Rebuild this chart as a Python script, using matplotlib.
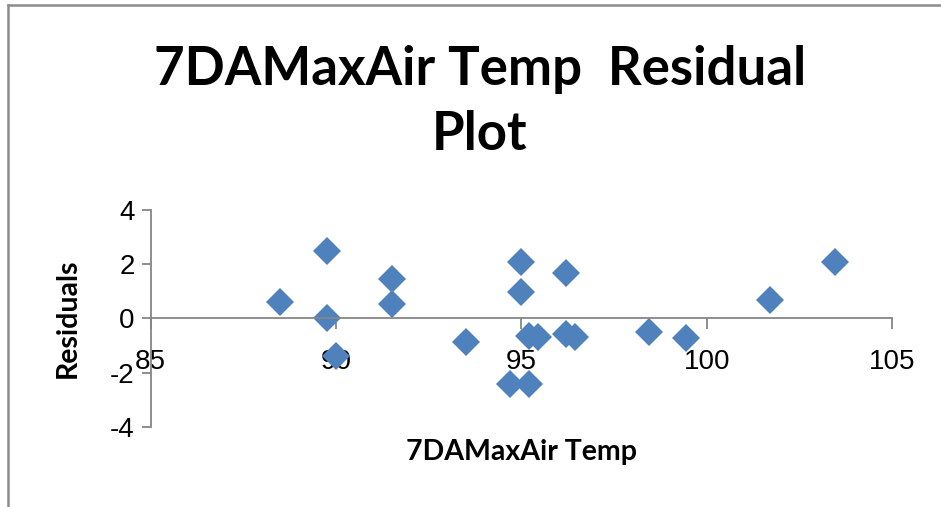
import matplotlib
matplotlib.use("Agg")
import matplotlib.pyplot as plt
from matplotlib.lines import Line2D

# residual plot data
max_air_temp = [88.5, 89.75, 89.75, 90.0, 91.5, 91.5, 93.5, 94.7, 95.0, 95.0,
                95.2, 95.2, 95.45, 96.2, 96.2, 96.45, 98.45, 99.45, 101.7, 103.45]
residuals = [0.62, 2.49, 0.03, -1.37, 1.47, 0.52, -0.86, -2.42, 2.10, 0.99,
             -2.42, -0.65, -0.69, 1.67, -0.58, -0.67, -0.51, -0.71, 0.68, 2.08]

x_ticks = [85, 90, 95, 100, 105]
y_ticks = [-4, -2, 0, 2, 4]

plt.rcParams["axes.unicode_minus"] = False

LABEL_FONT = ["Lato", "DejaVu Sans"]
AXIS_GRAY = "#868686"

fig = plt.figure(figsize=(9.41, 5.07), dpi=100)
ax = fig.add_axes([0.1601, 0.1578, 0.788, 0.428])

ax.plot(max_air_temp, residuals, linestyle="none", marker="D",
        markersize=14, color="#4F81BD", markeredgewidth=0)

ax.set_xlim(85, 105)
ax.set_ylim(-4, 4)
ax.set_xticks(x_ticks)
ax.set_yticks(y_ticks)

for side in ["top", "right"]:
    ax.spines[side].set_visible(False)
ax.spines["bottom"].set_position(("data", 0))
for side in ["left", "bottom"]:
    ax.spines[side].set_color(AXIS_GRAY)
    ax.spines[side].set_linewidth(1.3)

ax.tick_params(axis="x", direction="out", length=8, width=1.3, color=AXIS_GRAY,
               pad=14, labelsize=20)
ax.tick_params(axis="y", direction="out", length=6.5, width=1.3, color=AXIS_GRAY,
               pad=5, labelsize=20)
for lbl in ax.get_xticklabels() + ax.get_yticklabels():
    lbl.set_family("Liberation Sans")

ax.set_xlabel("7DAMaxAir Temp", family=LABEL_FONT, fontweight="bold", fontsize=20.5,
              va="center")
ax.xaxis.set_label_coords(0.5, -0.115)
ax.set_ylabel("Residuals", family=LABEL_FONT, fontweight="bold", fontsize=20.5,
              va="center")
ax.yaxis.set_label_coords(-0.1115, 0.5)

fig.text(0.51, 0.912, "7DAMaxAir Temp  Residual\nPlot", ha="center", va="top",
         family=LABEL_FONT, fontweight="bold", fontsize=38, linespacing=1.42)

# chart area border (left and top edges visible in the crop)
fig.add_artist(Line2D([8 / 941, 8 / 941], [0, 1 - 5 / 507],
                      transform=fig.transFigure, color="#8c8c8c", linewidth=1.8))
fig.add_artist(Line2D([8 / 941, 1], [1 - 5 / 507, 1 - 5 / 507],
                      transform=fig.transFigure, color="#8c8c8c", linewidth=1.8))

fig.savefig("out.png", dpi=100)
